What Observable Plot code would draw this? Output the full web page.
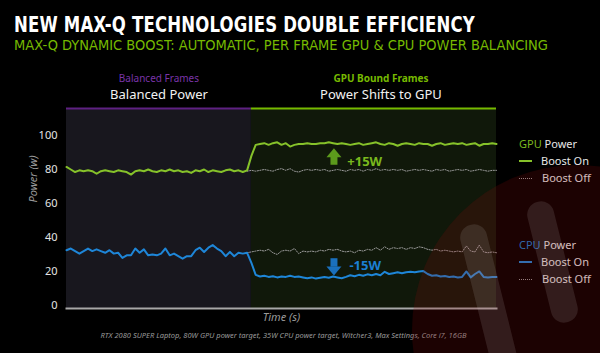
<!DOCTYPE html>
<html>
<head>
<meta charset="utf-8">
<script src="https://cdn.jsdelivr.net/npm/d3@7"></script>
<script src="https://cdn.jsdelivr.net/npm/@observablehq/plot@0.6"></script>
<style>
  html, body { margin:0; padding:0; background:#000; width:600px; height:353px; overflow:hidden; }
  #page { position:relative; width:600px; height:353px; background:#000; font-family:"DejaVu Sans", "Noto Sans", sans-serif; }
  .fit { position:absolute; left:14px; white-space:nowrap; transform-origin:0 0; }
  #title { top:14px; font-size:22px; line-height:22px; font-weight:bold; color:#fff; font-stretch:condensed; font-family:"DejaVu Sans Condensed","DejaVu Sans",sans-serif; letter-spacing:0.2px; }
  #subtitle { top:38px; font-size:14px; line-height:14px; color:#76b900; font-stretch:condensed; font-family:"DejaVu Sans Condensed","DejaVu Sans",sans-serif; font-weight:300; }
  #chart { position:absolute; left:0; top:60px; }
  .lg { position:absolute; font-size:11px; color:#e6e6e6; white-space:nowrap; line-height:12px; font-family:"Noto Sans","DejaVu Sans",sans-serif; }
  .sw { position:absolute; width:13px; }
  #wm { position:absolute; left:0; top:0; width:600px; height:353px; pointer-events:none; overflow:hidden; }
  #wm .circ { position:absolute; left:412px; top:165px; width:330px; height:330px; border-radius:50%; background:rgba(140,12,10,0.20); }
  #wm .bar { position:absolute; width:27px; border-radius:13px; background:rgba(210,210,210,0.13); transform:rotate(-14deg); }
</style>
</head>
<body>
<div id="page">
  <div id="title" class="fit">NEW MAX-Q TECHNOLOGIES DOUBLE EFFICIENCY</div>
  <div id="subtitle" class="fit">MAX-Q DYNAMIC BOOST: AUTOMATIC, PER FRAME GPU &amp; CPU POWER BALANCING</div>
  <div id="chart"></div>
  <div id="legend"></div>
  <div id="wm"><div class="circ"></div><div class="bar" style="left:480px;top:222px;height:190px;"></div><div class="bar" style="left:539px;top:200px;height:124px;"></div></div>
</div>
<script>
// ---------- data ----------
const regionNames  = ["Balanced Frames", "GPU Bound Frames"];
const regionTitles = ["Balanced Power", "Power Shifts to GPU"];
const regionStart  = [0, 43];
const regionEnd    = [43, 100];

const yTicks = [0, 20, 40, 60, 80, 100];

// GPU power, Boost On (t = 0..100)
const gpuOn = [
  81.5, 80, 78.5, 79.5, 79, 79.5, 79, 77.5, 79, 79.5,
  79, 78.5, 79.5, 79, 78.5, 77, 79, 79.5, 79, 80,
  79, 78.5, 79.5, 79, 80, 79, 79.5, 78.5, 79, 78,
  79.5, 79, 80, 78.5, 79.5, 79, 78.5, 79.5, 80, 79,
  79.5, 78.5, 79.5, 88, 94.5,
  95, 95.5, 94.5, 95.5, 96, 94.5, 95.5, 93.5, 94.5, 95,
  95, 95.5, 95, 95, 95.5, 95.5, 96, 95.5, 95, 95.5,
  95, 94.5, 95, 95.5, 94.5, 95, 95.5, 96, 95, 94.5,
  95.5, 95, 94, 95, 95.5, 95, 94.5, 95.5, 95, 95,
  94, 95, 95.5, 94.5, 95, 95.5, 95, 95.5, 94.5, 95,
  95.5, 94, 95, 95, 95.5, 95
];
// CPU power, Boost On (t = 0..100)
const cpuOn = [
  32.5, 33.5, 32, 30.5, 32, 33.5, 32, 33, 32, 31,
  32.5, 30.5, 31, 28, 29.5, 29.5, 33.5, 31, 33, 29.5,
  30, 29.5, 30.5, 33.5, 29.5, 30.5, 29, 27.5, 29, 29,
  32.5, 34, 31.5, 34, 35.5, 33.5, 32, 29, 31.5, 29,
  31, 30.5, 31, 25, 18,
  17, 17.5, 16.8, 17.2, 16.5, 17, 16.8, 17.5, 16.8, 17,
  16.5, 16, 16.5, 15.8, 16.3, 16.8, 16.3, 17, 16.5, 16,
  16.8, 17.8, 17.2, 18, 17.5, 18.3, 17.8, 18.5, 17.8, 19.8,
  18.5, 19, 19.5, 19, 19.5, 19.8, 19.5, 20, 20.2, 18.5,
  17.5, 17.8, 17, 17.3, 16.8, 17, 16.5, 16.8, 20, 16.5,
  18.5, 20, 16.8, 16.5, 16.8, 16.7
];
// Boost Off series start at t = 42
const boostOffStart = 42;
const gpuOff = [
  79, 79.5, 79, 79.5, 80, 79.5, 79, 80, 80.5, 79.5,
  80.5, 79, 78.5, 79.5, 80, 79.5, 80, 79.5, 80, 79,
  79.5, 80, 79.5, 79, 80, 79.5, 80, 79, 80, 79.5,
  80.5, 79.5, 80, 79.5, 80, 79.5, 80, 79, 79.5, 80,
  79.5, 80, 79.5, 79, 80, 79.5, 80, 79, 79.5, 80,
  79.5, 80, 79, 79.5, 80, 79.5, 79, 79.5, 79.5
];
const cpuOff = [
  31, 31.5, 32, 32.5, 32, 33, 31, 30, 32, 32.5,
  32, 33.5, 30.5, 32, 31.5, 32, 31.5, 32.5, 32, 33,
  32.5, 33, 32, 31.5, 32, 31, 32.5, 32, 33, 32.5,
  34, 32.5, 34.5, 33, 34, 33.5, 34, 33, 34, 33.5,
  34.5, 34, 33, 32.5, 33, 32, 32.5, 32, 31.5, 32,
  31.5, 35, 32, 31.5, 35.5, 31.5, 31, 31.5, 31
];

// annotations
const annLabels   = ["+15W", "-15W"];
const annSeries   = ["GPU", "CPU"];
const annT        = [62.2, 62.2];
const annShaft1   = [82.5, 27.5];
const annShaft2   = [87.5, 22.5];
const annHead     = [89.8, 20.2];
const annLabelT   = [65.3, 65.8];
const annLabelY   = [84.8, 23.5];

const footnote = "RTX 2080 SUPER Laptop, 80W GPU power target, 35W CPU power target, Witcher3, Max Settings, Core i7, 16GB";

// ---------- styles ----------
const C = {
  gpu: "#86c22a", cpu: "#1e86d8", off: "#9a9a9a",
  gpuText: "#7ab81e", cpuText: "#1b7fd2",
  gpuArrow: "#5c9a1c", cpuArrow: "#1a70bd",
  regionFill: {"Balanced Frames": "#18171e", "GPU Bound Frames": "#10180a"},
  regionTop:  {"Balanced Frames": "#5e2182", "GPU Bound Frames": "#76b900"},
  regionHead: {"Balanced Frames": "#7a34a8", "GPU Bound Frames": "#76b900"}
};

// ---------- tables ----------
const regions = regionNames.map((name, i) => ({name, title: regionTitles[i], x1: regionStart[i], x2: regionEnd[i]}));
const toRows = (vals, start) => vals.map((w, i) => ({t: start + i, w}));
const gpuOnRows = toRows(gpuOn, 0);
const cpuOnRows = toRows(cpuOn, 0);
const gpuOffRows = toRows(gpuOff, boostOffStart);
const cpuOffRows = toRows(cpuOff, boostOffStart);
const ann = annLabels.map((label, i) => ({label, series: annSeries[i], t: annT[i], y1: annShaft1[i], y2: annShaft2[i], head: annHead[i], lt: annLabelT[i], ly: annLabelY[i]}));

const yDomain = [-1.8, 115.9];

const headUp = {draw(ctx) { ctx.moveTo(-7.5, 4.5); ctx.lineTo(7.5, 4.5); ctx.lineTo(0, -4.5); ctx.closePath(); }};
const headDown = {draw(ctx) { ctx.moveTo(-7.5, -4.5); ctx.lineTo(7.5, -4.5); ctx.lineTo(0, 4.5); ctx.closePath(); }};

const left = regions.filter(d => d.x1 === 0);
const right = regions.filter(d => d.x1 !== 0);

const chart = Plot.plot({
  width: 600, height: 293,
  marginTop: 48, marginBottom: 45, marginLeft: 66, marginRight: 104,
  style: {background: "transparent", color: "#e0e0e0", fontFamily: "'Noto Sans','DejaVu Sans',sans-serif", overflow: "visible"},
  x: {domain: [0, 100], axis: null},
  y: {domain: yDomain, axis: null},
  color: {type: "identity"},
  marks: [
    Plot.rect(regions, {x1: "x1", x2: "x2", fill: d => C.regionFill[d.name]}),
    Plot.ruleY(regions, {y: () => yDomain[1], x1: "x1", x2: "x2", stroke: d => C.regionTop[d.name], strokeWidth: 2}),
    Plot.frame({anchor: "bottom", stroke: "#a8a8a8", strokeWidth: 2}),
    Plot.axisY({ticks: yTicks, tickSize: 0, tickPadding: 9, fontSize: 11, fill: "#e4e4e4", label: null}),
    Plot.text(["Power (w)"], {frameAnchor: "left", rotate: -90, dx: -33, dy: -6, fontSize: 11, fontStyle: "italic", fill: "#9a9a9a"}),
    Plot.text(["Time (s)"], {frameAnchor: "bottom", dy: 12, fontSize: 11, fontStyle: "italic", fill: "#9a9a9a"}),
    Plot.text([footnote], {frameAnchor: "bottom", dy: 29, dx: 2, fontSize: 7.5, fontStyle: "italic", fill: "#9a9a9a"}),
    // region headings
    Plot.text(left, {x: d => (d.x1 + d.x2) / 2, text: "name", frameAnchor: "top", lineAnchor: "bottom", dy: -27, fontSize: 10, fill: d => C.regionHead[d.name]}),
    Plot.text(left, {x: d => (d.x1 + d.x2) / 2, text: "title", frameAnchor: "top", lineAnchor: "bottom", dy: -10, fontSize: 13, fill: "#f2f2f2"}),
    Plot.text(right, {x: d => (d.x1 + d.x2) / 2, text: "name", frameAnchor: "top", lineAnchor: "bottom", dx: 7, dy: -27, fontSize: 10, fontWeight: "bold", fill: d => C.regionHead[d.name]}),
    Plot.text(right, {x: d => (d.x1 + d.x2) / 2, text: "title", frameAnchor: "top", lineAnchor: "bottom", dx: 7, dy: -10, fontSize: 13, fill: "#f2f2f2"}),
    // boost off (dotted)
    Plot.line(gpuOffRows, {x: "t", y: "w", stroke: C.off, strokeWidth: 1, strokeDasharray: "1.2,1.4"}),
    Plot.line(cpuOffRows, {x: "t", y: "w", stroke: C.off, strokeWidth: 1, strokeDasharray: "1.2,1.4"}),
    // boost on
    Plot.line(gpuOnRows, {x: "t", y: "w", stroke: C.gpu, strokeWidth: 2}),
    Plot.line(cpuOnRows, {x: "t", y: "w", stroke: C.cpu, strokeWidth: 2}),
    // annotation arrows
    Plot.ruleX(ann, {x: "t", y1: "y1", y2: "y2", stroke: d => d.series === "GPU" ? C.gpuArrow : C.cpuArrow, strokeWidth: 7}),
    Plot.dot(ann.filter(d => d.series === "GPU"), {x: "t", y: "head", symbol: headUp, fill: C.gpuArrow, stroke: "none"}),
    Plot.dot(ann.filter(d => d.series === "CPU"), {x: "t", y: "head", symbol: headDown, fill: C.cpuArrow, stroke: "none"}),
    Plot.text(ann, {x: "lt", y: "ly", text: "label", textAnchor: "start", fontSize: 13, fontWeight: "bold", fill: d => d.series === "GPU" ? C.gpuText : C.cpuText})
  ]
});
document.getElementById("chart").appendChild(chart);

// ---------- legend ----------
const legendGroups = [
  {name: "GPU", top: 144, color: C.gpu, textColor: C.gpuText},
  {name: "CPU", top: 245, color: C.cpu, textColor: C.cpuText}
];
const lg = document.getElementById("legend");
for (const g of legendGroups) {
  lg.insertAdjacentHTML("beforeend",
    `<div class="lg" style="left:519px;top:${g.top - 6}px;"><span style="color:${g.textColor}">${g.name}</span> Power</div>` +
    `<div class="sw" style="left:519px;top:${g.top + 16}px;height:2px;background:${g.color}"></div>` +
    `<div class="lg" style="left:541px;top:${g.top + 11}px;">Boost On</div>` +
    `<div class="sw" style="left:519px;top:${g.top + 34}px;height:0;border-top:1px dotted ${C.off}"></div>` +
    `<div class="lg" style="left:542px;top:${g.top + 28}px;">Boost Off</div>`);
}

// fit title widths
function fit(id, w) {
  const el = document.getElementById(id);
  const r = el.getBoundingClientRect().width;
  el.style.transform = `scaleX(${w / r})`;
}
fit("title", 461);
fit("subtitle", 534);
</script>
</body>
</html>
